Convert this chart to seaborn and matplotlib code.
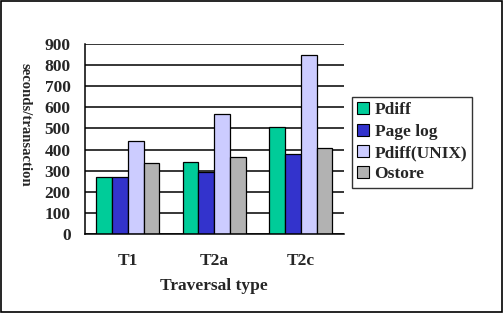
import matplotlib
matplotlib.use("Agg")
import matplotlib.pyplot as plt
from matplotlib.patches import Rectangle
import seaborn as sns
import pandas as pd

categories = ["T1", "T2a", "T2c"]
series = ["Pdiff", "Page log", "Pdiff(UNIX)", "Ostore"]
pdiff = [270, 343, 506]
page_log = [270, 295, 378]
pdiff_unix = [440, 567, 848]
ostore = [335, 363, 406]
colors = ["#00CC99", "#3333CC", "#CCCCFF", "#B2B2B2"]

rows = []
for name, vals in zip(series, [pdiff, page_log, pdiff_unix, ostore]):
    for c, v in zip(categories, vals):
        rows.append({"type": c, "series": name, "value": v})
df = pd.DataFrame(rows)

sns.set_style("white")
plt.rcParams["font.family"] = ["Liberation Serif", "DejaVu Serif"]
plt.rcParams["font.weight"] = "bold"

FS = 12.5
fig = plt.figure(figsize=(5.03, 3.13), dpi=100)
ax = fig.add_axes([84.5 / 503, (313 - 234) / 313, (344 - 84.5) / 503, (234 - 44) / 313])

sns.barplot(data=df, x="type", y="value", hue="series", hue_order=series,
            palette=colors, width=0.73, edgecolor="black", linewidth=0.9,
            saturation=1, ax=ax, legend=True)

ax.set_ylim(0, 900)
ax.set_xlim(-0.5, 2.5)
ax.set_yticks(range(0, 901, 100))
ax.yaxis.grid(True, color="black", linewidth=1.1)
ax.set_axisbelow(True)
for s in ["top", "right"]:
    ax.spines[s].set_visible(False)
for s in ["left", "bottom"]:
    ax.spines[s].set_color("black")
    ax.spines[s].set_linewidth(1.1)

ax.tick_params(axis="y", which="major", direction="out", length=6, width=1,
               color="black", labelsize=FS, pad=4)
ax.tick_params(axis="x", which="major", length=0, labelsize=FS, pad=14)
ax.set_xticks([-0.5, 0.5, 1.5, 2.5], minor=True)
ax.tick_params(axis="x", which="minor", direction="out", length=5, width=1, color="black")
for lbl in ax.get_xticklabels() + ax.get_yticklabels():
    lbl.set_fontweight("bold")

ax.set_xlabel("Traversal type", fontsize=FS, fontweight="bold", labelpad=6)
ax.set_ylabel("")
fig.text(25 / 503, 1 - 125 / 313, "seconds/transaction", rotation=-90,
         ha="center", va="center", fontsize=10.6, fontweight="bold")

leg = ax.legend(loc="upper left", bbox_to_anchor=(352 / 503, (313 - 97) / 313),
                bbox_transform=fig.transFigure, frameon=True, fancybox=False,
                edgecolor="black", fontsize=FS, handlelength=0.7, handleheight=0.7,
                handletextpad=0.3, borderpad=0.3, labelspacing=0.3, borderaxespad=0)
leg.get_frame().set_linewidth(1)
for t in leg.get_texts():
    t.set_fontweight("bold")
for h in leg.legend_handles:
    h.set_edgecolor("black")
    h.set_linewidth(0.8)

fig.patches.append(Rectangle((0.002, 0.003), 0.996, 0.994, transform=fig.transFigure,
                             fill=False, edgecolor="black", linewidth=1.2))

fig.savefig("out.png", dpi=100)
